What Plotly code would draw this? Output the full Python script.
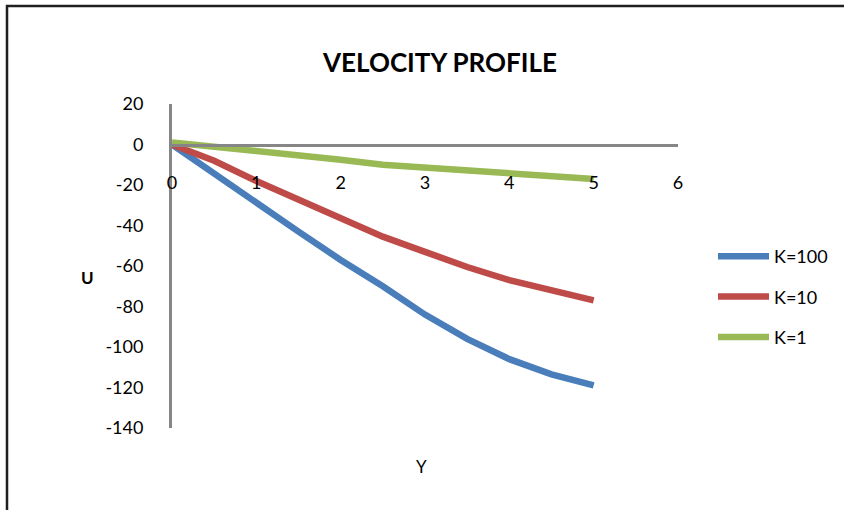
import plotly.graph_objects as go

y_vals = [0, 0.5, 1, 1.5, 2, 2.5, 3, 3.5, 4, 4.5, 5]
u_k100 = [0, -14.5, -28.5, -43, -57, -70, -84, -96, -106, -113.5, -119]
u_k10 = [0, -8, -18, -27, -36.5, -45.5, -53, -60.5, -67, -72, -77]
u_k1 = [1, -1, -3.5, -5.5, -7.5, -10, -11.5, -13, -14.5, -15.5, -17]

x_ticks = [0, 1, 2, 3, 4, 5, 6]
y_ticks = [20, 0, -20, -40, -60, -80, -100, -120, -140]
y_tick_labels = ["20", "0", "-20", "-40", "-60", "-80", "-100", "-120", "-140"]

series = [("K=100", u_k100, "#4A7EBB"), ("K=10", u_k10, "#BE4B48"), ("K=1", u_k1, "#98B954")]

FONT = "Lato"
fig = go.Figure()
for i, (name, vals, col) in enumerate(series):
    fig.add_trace(go.Scatter(x=y_vals, y=vals, mode="lines", name=name,
                             line=dict(color=col, width=6.5), legendgroup=str(i)))

L, R, T, B = 172, 678, 104, 428
W, H = 844, 510
pw, ph = R - L, B - T
def px(x): return (x - L) / pw
def py(y): return (B - y) / ph

fig.update_layout(
    width=W, height=H,
    margin=dict(l=L, r=W - R, t=T, b=H - B, autoexpand=False),
    paper_bgcolor="white", plot_bgcolor="white",
    font=dict(family=FONT, size=18, color="black"),
    title=dict(text="<b>VELOCITY PROFILE</b>", x=px(440), xref="paper", xanchor="center",
               y=1 - 63 / H, yref="container", yanchor="middle",
               font=dict(family=FONT, size=26, color="black")),
    xaxis=dict(range=[0, 6], tickvals=x_ticks, ticktext=[str(v) for v in x_ticks],
               showgrid=False, zeroline=False,
               showline=True, linecolor="#868686", linewidth=3,
               anchor="free", position=140 / 160, ticks="", ticklabelstandoff=21,
               tickfont=dict(family=FONT, size=18)),
    yaxis=dict(range=[-140, 20], tickvals=y_ticks, ticktext=y_tick_labels,
               showgrid=False, zeroline=False,
               showline=True, linecolor="#868686", linewidth=3,
               ticks="", ticklabelstandoff=22, tickfont=dict(family=FONT, size=18)),
    legend=dict(x=px(713), xanchor="left", y=py(238), yanchor="top",
                font=dict(family=FONT, size=18), tracegroupgap=14, itemwidth=51,
                bgcolor="rgba(0,0,0,0)"),
    showlegend=True,
)

fig.add_annotation(text="<b>U</b>", x=px(87), y=py(277), xref="paper", yref="paper",
                   xanchor="center", yanchor="middle",
                   showarrow=False, font=dict(family=FONT, size=17))
fig.add_annotation(text="Y", x=px(421), y=py(466), xref="paper", yref="paper",
                   xanchor="center", yanchor="middle",
                   showarrow=False, font=dict(family=FONT, size=17))

fig.add_shape(type="path", xref="paper", yref="paper",
              path=f"M {px(7)},{py(512)} L {px(7)},{py(6)} L {px(846)},{py(6)}",
              line=dict(color="#1f1f1f", width=2.5))

fig.write_html("out.html")
